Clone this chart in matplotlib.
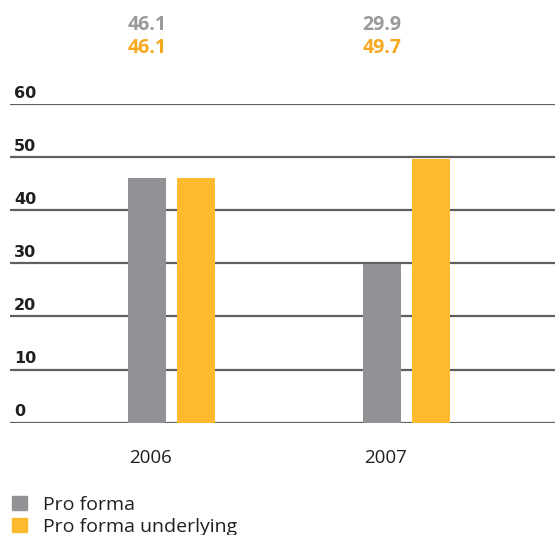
import matplotlib.pyplot as plt
from matplotlib.patches import Patch
import numpy as np

years = ['2006', '2007']
pro_forma = [46.1, 29.9]
pro_forma_underlying = [46.1, 49.7]
series_names = ['Pro forma', 'Pro forma underlying']
y_ticks = [0, 10, 20, 30, 40, 50, 60]

GREY = '#929195'
YELLOW = '#FDBA2F'
GREY_TXT = '#9a9a9c'
ORANGE_TXT = '#F7A81E'
GRID = '#5f5f5f'
INK = '#1f1f1f'

plt.rcParams['font.family'] = ['Open Sans', 'DejaVu Sans']

fig = plt.figure(figsize=(5.55, 5.35), dpi=100)
ax = fig.add_axes([10 / 555, 112.3 / 535, 545 / 555, 318.7 / 535])

x = np.arange(len(years))
width = 0.162
offset = 0.104
ax.bar(x - offset, pro_forma, width, color=GREY, zorder=3)
ax.bar(x + offset, pro_forma_underlying, width, color=YELLOW, zorder=3)

# horizontal rules with the value printed just above each
for t in y_ticks:
    ax.axhline(t, color=GRID, lw=1.6, zorder=1)
    ax.text(-0.67, t + 1.2, str(t), fontsize=11.5, fontweight='bold',
            family='DejaVu Sans', color=INK, ha='left', va='baseline')

# value labels stacked above the grey bars
for xi, a, b in zip(x, pro_forma, pro_forma_underlying):
    ax.text(xi - offset, 73.95, f'{a:.1f}', color=GREY_TXT, fontsize=14,
            fontweight='bold', ha='center', va='baseline', clip_on=False)
    ax.text(xi - offset, 69.6, f'{b:.1f}', color=ORANGE_TXT, fontsize=14,
            fontweight='bold', ha='center', va='baseline', clip_on=False)

for xi, yr in zip(x, years):
    ax.text(xi - 0.09, -7.6, yr, fontsize=13.5, color=INK, ha='center',
            va='baseline', clip_on=False)

ax.set_xlim(-0.687, 1.632)
ax.set_ylim(0, 60)
ax.axis('off')

handles = [Patch(color=GREY), Patch(color=YELLOW)]
fig.legend(handles, series_names, loc='upper left',
           bbox_to_anchor=(12 / 555, 1 - 496 / 535), frameon=False,
           handlelength=0.75, handleheight=0.75, handletextpad=0.85,
           labelspacing=0.2, fontsize=14, borderaxespad=0,
           borderpad=0, labelcolor=INK)

fig.savefig('out.png', dpi=100)
